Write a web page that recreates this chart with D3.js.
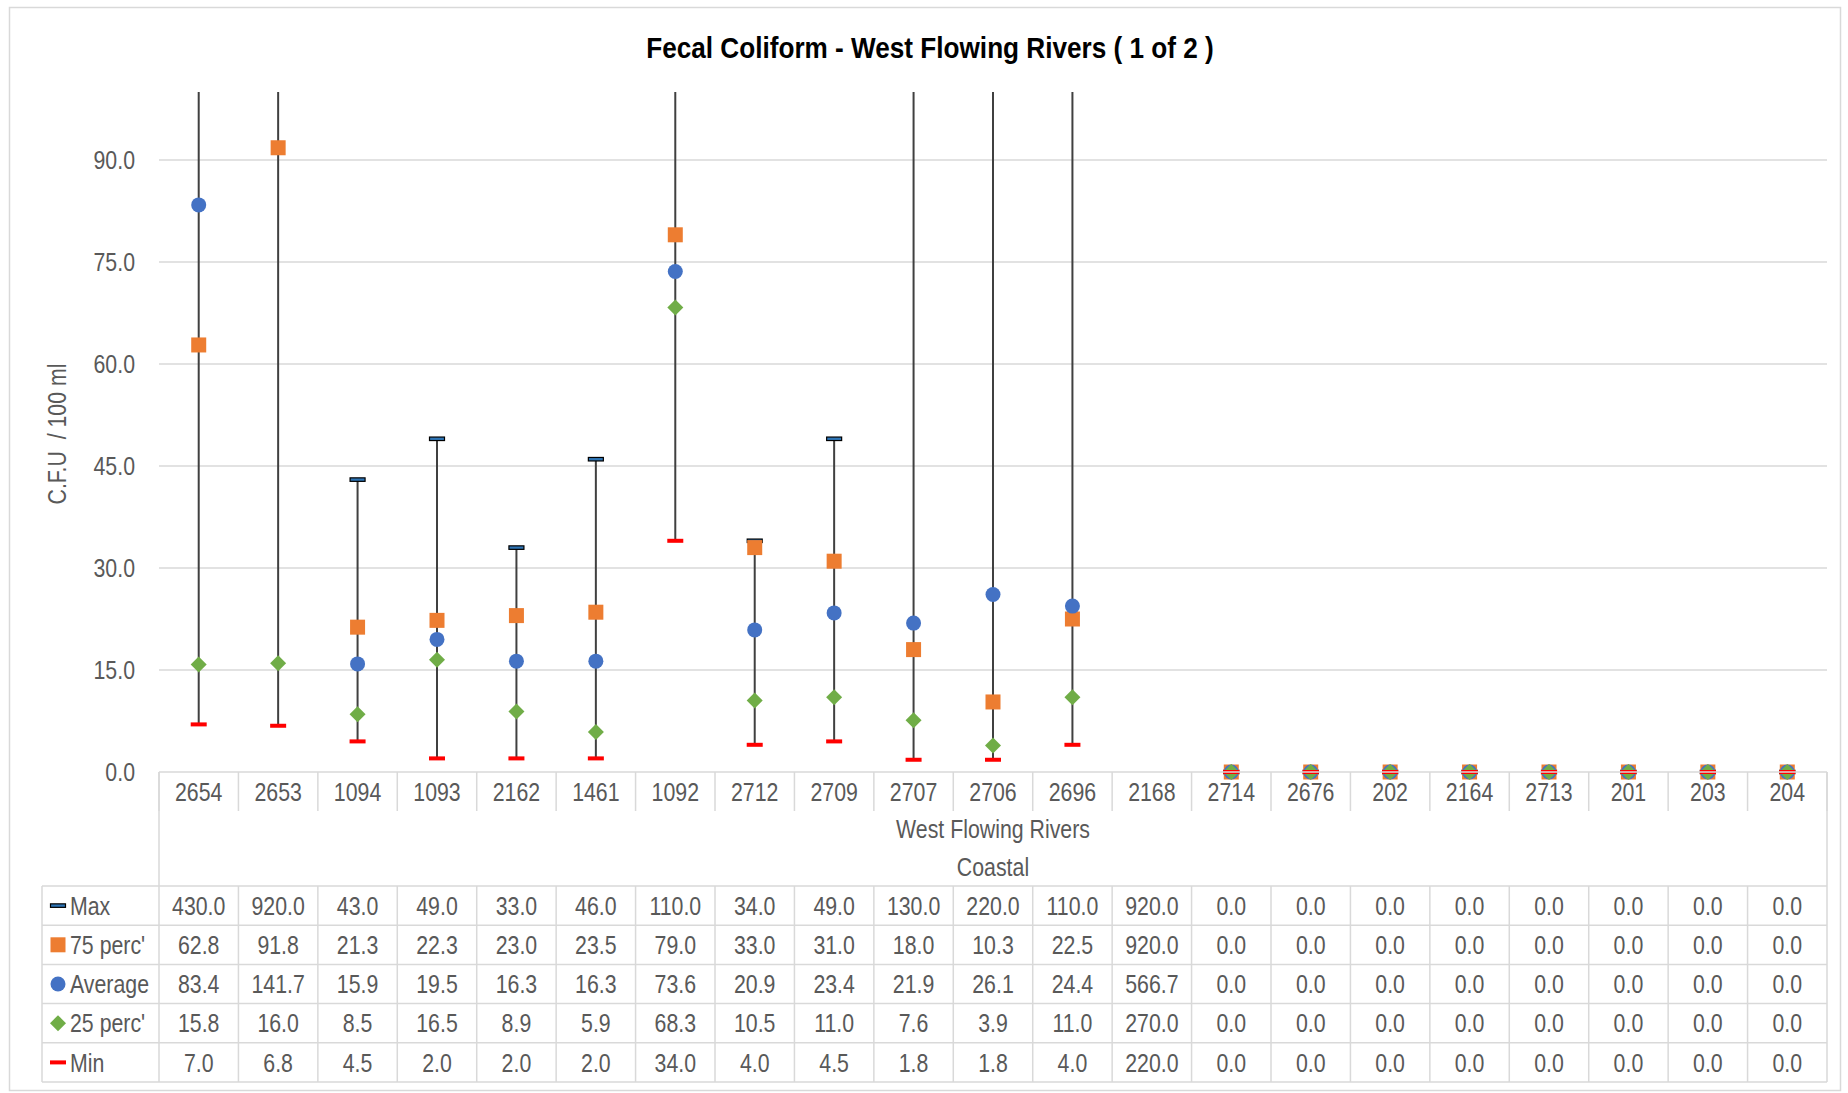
<!DOCTYPE html>
<html>
<head>
<meta charset="utf-8">
<script src="https://cdn.jsdelivr.net/npm/d3@7"></script>
<style>
  html, body { margin: 0; padding: 0; background: #fff; }
  svg { display: block; }
  text { white-space: pre; }
</style>
</head>
<body>
<svg id="chart" width="1848" height="1093"></svg>
<script>
const categories = ["2654","2653","1094","1093","2162","1461","1092","2712","2709","2707","2706","2696","2168","2714","2676","202","2164","2713","201","203","204"];
const maxVals = [430.0,920.0,43.0,49.0,33.0,46.0,110.0,34.0,49.0,130.0,220.0,110.0,920.0,0,0,0,0,0,0,0,0];
const p75Vals = [62.8,91.8,21.3,22.3,23.0,23.5,79.0,33.0,31.0,18.0,10.3,22.5,920.0,0,0,0,0,0,0,0,0];
const avgVals = [83.4,141.7,15.9,19.5,16.3,16.3,73.6,20.9,23.4,21.9,26.1,24.4,566.7,0,0,0,0,0,0,0,0];
const p25Vals = [15.8,16.0,8.5,16.5,8.9,5.9,68.3,10.5,11.0,7.6,3.9,11.0,270.0,0,0,0,0,0,0,0,0];
const minVals = [7.0,6.8,4.5,2.0,2.0,2.0,34.0,4.0,4.5,1.8,1.8,4.0,220.0,0,0,0,0,0,0,0,0];
const yTicks = [0,15,30,45,60,75,90];
const seriesNames = ["Max","75 perc'","Average","25 perc'","Min"];
const titleText = "Fecal Coliform - West Flowing Rivers ( 1 of 2 )";
const yTitle = "C.F.U  / 100 ml";
const groupLabel1 = "West Flowing Rivers";
const groupLabel2 = "Coastal";

const FONT = "'Liberation Sans', Arial, sans-serif";
const NARROW = 0.82;
const GRID = "#d9d9d9";
const TXT = "#595959";

const svg = d3.select("#chart");
const L = 159, R = 1827, T = 92, B = 772;

const x = d3.scaleBand().domain(categories).range([L, R]).padding(0);
const y = d3.scaleLinear().domain([0, 100]).range([B, T]);

// narrow text helper (Arial Narrow look: Liberation Sans compressed horizontally)
function ntext(parent, px, py, str, o = {}) {
  const t = parent.append("text")
    .attr("transform", `translate(${px},${py}) ${o.rotate ? "rotate(" + o.rotate + ") " : ""}scale(${o.sx || NARROW},1)`)
    .attr("x", 0).attr("y", 0)
    .attr("dy", o.dy === undefined ? "0.35em" : o.dy)
    .attr("text-anchor", o.anchor || "middle")
    .attr("font-family", FONT)
    .attr("font-size", o.size || 26)
    .attr("font-weight", o.weight || "normal")
    .attr("fill", o.fill || TXT)
    .text(str);
  return t;
}

// outer border
svg.append("rect").attr("x", 9.5).attr("y", 7.5).attr("width", 1831).attr("height", 1083)
  .attr("fill", "none").attr("stroke", GRID).attr("stroke-width", 1.5);

// title (fit to reference width)
const title = ntext(svg, 930, 47, titleText, { size: 30, weight: "bold", fill: "#000", sx: 1 });
const tw = title.node().getComputedTextLength();
title.attr("transform", `translate(930,47) scale(${568 / tw},1)`);

// gridlines
svg.append("g").selectAll("line").data(yTicks.filter(d => d > 0)).join("line")
  .attr("x1", L).attr("x2", R).attr("y1", d => y(d)).attr("y2", d => y(d))
  .attr("stroke", GRID).attr("stroke-width", 1.5);

// y axis labels
const fmt = d3.format(".1f");
const yg = svg.append("g");
yTicks.forEach(v => ntext(yg, 135, y(v), fmt(v), { anchor: "end" }));

// y title
ntext(svg, 57, 434, yTitle, { rotate: -90 });

// clip
svg.append("clipPath").attr("id", "plotclip").append("rect")
  .attr("x", L).attr("y", T).attr("width", R - L).attr("height", B - T + 30);

const plot = svg.append("g").attr("clip-path", "url(#plotclip)");
const cx = d => x(d) + x.bandwidth() / 2;
const idx = categories.map((c, i) => i);

// high-low lines
plot.append("g").selectAll("line").data(idx.filter(i => maxVals[i] > minVals[i])).join("line")
  .attr("x1", i => cx(categories[i])).attr("x2", i => cx(categories[i]))
  .attr("y1", i => y(minVals[i])).attr("y2", i => y(maxVals[i]))
  .attr("stroke", "#404040").attr("stroke-width", 2);

const inRange = v => v <= 100;

// Max dashes
plot.append("g").selectAll("rect").data(idx.filter(i => inRange(maxVals[i]))).join("rect")
  .attr("x", i => cx(categories[i]) - 7.5).attr("y", i => y(maxVals[i]) - 1.75)
  .attr("width", 15).attr("height", 3.5)
  .attr("fill", "#2E75B6").attr("stroke", "#000").attr("stroke-width", 1.2);

// 75 perc squares
plot.append("g").selectAll("rect").data(idx.filter(i => inRange(p75Vals[i]))).join("rect")
  .attr("x", i => cx(categories[i]) - 7.5).attr("y", i => y(p75Vals[i]) - 7.5)
  .attr("width", 15).attr("height", 15).attr("fill", "#ED7D31");

// Average circles
plot.append("g").selectAll("circle").data(idx.filter(i => inRange(avgVals[i]))).join("circle")
  .attr("cx", i => cx(categories[i])).attr("cy", i => y(avgVals[i])).attr("r", 7.5)
  .attr("fill", "#4472C4");

// 25 perc diamonds
const diamond = (px, py, h) => `M${px},${py - h}L${px + h},${py}L${px},${py + h}L${px - h},${py}Z`;
plot.append("g").selectAll("path").data(idx.filter(i => inRange(p25Vals[i]))).join("path")
  .attr("d", i => diamond(cx(categories[i]), y(p25Vals[i]), 8))
  .attr("fill", "#70AD47");

// Min dashes
plot.append("g").selectAll("rect").data(idx.filter(i => inRange(minVals[i]))).join("rect")
  .attr("x", i => cx(categories[i]) - 8).attr("y", i => y(minVals[i]) - 2)
  .attr("width", 16).attr("height", 4).attr("fill", "#FF0000");

// ---- table ----
const rowTop = 886, rowH = 39.2;
const TL = 42;
const tg = svg.append("g");
const bounds = categories.map(c => x(c)).concat([R]);

// x axis line
tg.append("line").attr("x1", L).attr("x2", R).attr("y1", B).attr("y2", B)
  .attr("stroke", GRID).attr("stroke-width", 1.5);
// category separators (top row)
tg.append("g").selectAll("line").data(bounds).join("line")
  .attr("x1", d => d).attr("x2", d => d).attr("y1", B).attr("y2", 811)
  .attr("stroke", GRID).attr("stroke-width", 1.5);
// outer plot sides through group label rows
tg.append("g").selectAll("line").data([L, R]).join("line")
  .attr("x1", d => d).attr("x2", d => d).attr("y1", B).attr("y2", rowTop)
  .attr("stroke", GRID).attr("stroke-width", 1.5);
// horizontal row lines
tg.append("g").selectAll("line").data(d3.range(6)).join("line")
  .attr("x1", TL).attr("x2", R).attr("y1", k => rowTop + k * rowH).attr("y2", k => rowTop + k * rowH)
  .attr("stroke", GRID).attr("stroke-width", 1.5);
// vertical table lines
tg.append("g").selectAll("line").data([TL].concat(bounds)).join("line")
  .attr("x1", d => d).attr("x2", d => d).attr("y1", rowTop).attr("y2", rowTop + 5 * rowH)
  .attr("stroke", GRID).attr("stroke-width", 1.5);

// category labels
categories.forEach(c => ntext(tg, cx(c), 792, c));

// group labels
ntext(tg, (L + R) / 2, 829, groupLabel1);
ntext(tg, (L + R) / 2, 867, groupLabel2);

const rows = [maxVals, p75Vals, avgVals, p25Vals, minVals];
rows.forEach((vals, r) => {
  const yc = rowTop + r * rowH + rowH / 2;
  vals.forEach((v, i) => ntext(tg, cx(categories[i]), yc, fmt(v)));
  ntext(tg, 70, yc, seriesNames[r], { anchor: "start" });
  const sx = 58;
  if (r === 0) {
    tg.append("rect").attr("x", sx - 7.5).attr("y", yc - 1.75).attr("width", 15).attr("height", 3.5)
      .attr("fill", "#2E75B6").attr("stroke", "#000").attr("stroke-width", 1.2);
  } else if (r === 1) {
    tg.append("rect").attr("x", sx - 7.5).attr("y", yc - 7.5).attr("width", 15).attr("height", 15).attr("fill", "#ED7D31");
  } else if (r === 2) {
    tg.append("circle").attr("cx", sx).attr("cy", yc).attr("r", 7.5).attr("fill", "#4472C4");
  } else if (r === 3) {
    tg.append("path").attr("d", diamond(sx, yc, 8)).attr("fill", "#70AD47");
  } else {
    tg.append("rect").attr("x", sx - 8).attr("y", yc - 2).attr("width", 16).attr("height", 4).attr("fill", "#FF0000");
  }
});
</script>
</body>
</html>
